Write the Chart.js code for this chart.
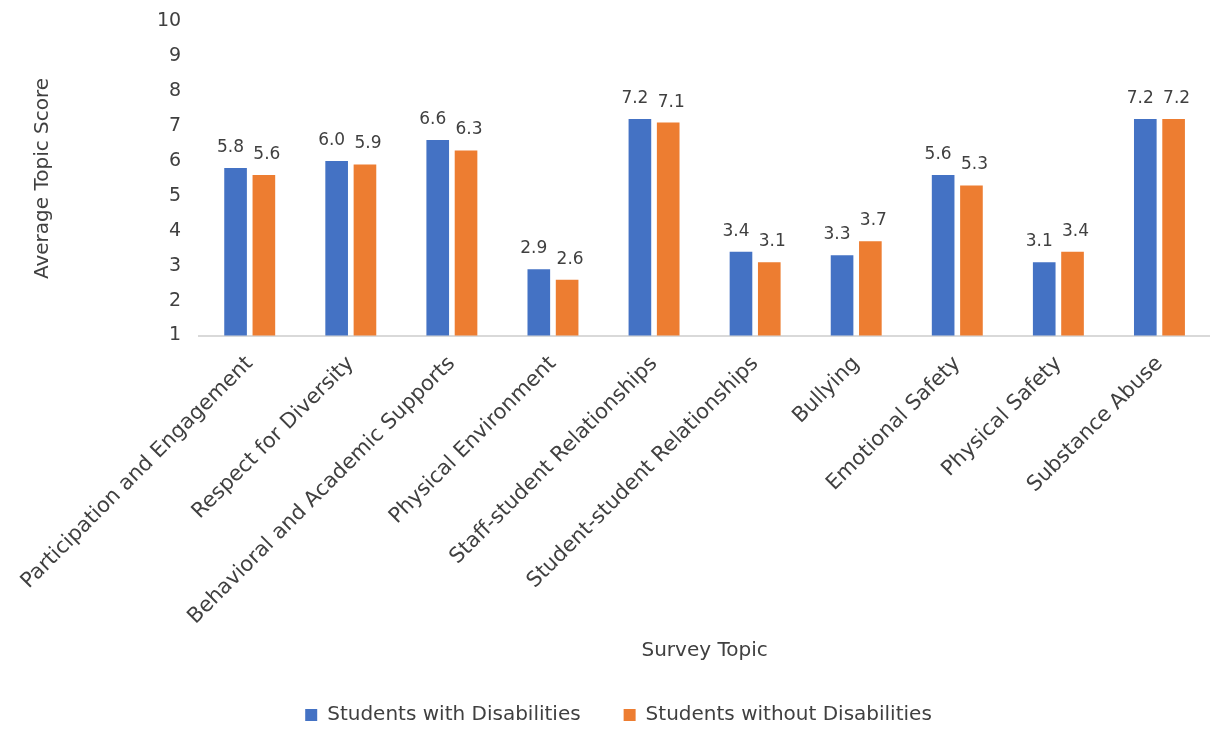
<!DOCTYPE html>
<html>
<head>
<meta charset="utf-8">
<script src="https://cdn.jsdelivr.net/npm/chart.js@4"></script>
<style>
  body { margin: 0; background: #fff; }
  #wrap { width: 1210px; height: 730px; }
</style>
</head>
<body>
<div id="wrap"><canvas id="chart" width="1210" height="730"></canvas></div>
<script>
// chart data
const topics = [
  'Participation and Engagement', 'Respect for Diversity', 'Behavioral and Academic Supports',
  'Physical Environment', 'Staff-student Relationships', 'Student-student Relationships',
  'Bullying', 'Emotional Safety', 'Physical Safety', 'Substance Abuse'
];
const withDisabilities = [5.8, 6.0, 6.6, 2.9, 7.2, 3.4, 3.3, 5.6, 3.1, 7.2];
const withoutDisabilities = [5.6, 5.9, 6.3, 2.6, 7.1, 3.1, 3.7, 5.3, 3.4, 7.2];
const seriesNames = ['Students with Disabilities', 'Students without Disabilities'];

const textColor = '#404040';
const fontFamily = "'DejaVu Sans', sans-serif";

// draws the value above each bar, nudged apart a little like the original
const valueLabels = {
  id: 'valueLabels',
  afterDatasetsDraw(chart) {
    const ctx = chart.ctx;
    const nudge = [-5, 3];
    ctx.save();
    ctx.fillStyle = textColor;
    ctx.font = '17px ' + fontFamily;
    ctx.textAlign = 'center';
    ctx.textBaseline = 'bottom';
    chart.data.datasets.forEach((ds, i) => {
      chart.getDatasetMeta(i).data.forEach((bar, j) => {
        ctx.fillText(ds.data[j].toFixed(1), bar.x + nudge[i], bar.y - 12);
      });
    });
    ctx.restore();
  }
};

new Chart(document.getElementById('chart'), {
  type: 'bar',
  data: {
    labels: topics,
    datasets: [
      { label: seriesNames[0], data: withDisabilities, backgroundColor: '#4472C4' },
      { label: seriesNames[1], data: withoutDisabilities, backgroundColor: '#ED7D31' }
    ]
  },
  options: {
    responsive: false,
    animation: false,
    categoryPercentage: 0.56,
    barPercentage: 0.8,
    layout: { padding: { top: 2, right: 0, left: 27, bottom: -5 } },
    plugins: {
      legend: {
        position: 'bottom',
        labels: {
          color: textColor,
          font: { size: 20, family: fontFamily },
          boxWidth: 12,
          boxHeight: 12,
          padding: 3,
          // widen the gap between the two entries without extra height
          generateLabels(chart) {
            const items = Chart.defaults.plugins.legend.labels.generateLabels(chart);
            items[0].text += '\u2003\u2003';
            return items;
          }
        }
      },
      tooltip: { enabled: false }
    },
    scales: {
      x: {
        grid: { display: false },
        border: { color: '#d9d9d9', width: 2 },
        ticks: {
          color: textColor,
          font: { size: 21, family: fontFamily },
          minRotation: 45,
          maxRotation: 45,
          padding: 8
        },
        title: {
          display: true,
          text: 'Survey Topic',
          color: textColor,
          font: { size: 20, family: fontFamily },
          padding: { top: 31, bottom: 39 }
        }
      },
      y: {
        min: 1,
        max: 10,
        grid: { display: false },
        border: { display: false },
        ticks: {
          stepSize: 1,
          color: textColor,
          font: { size: 19, family: fontFamily },
          padding: 10
        },
        title: {
          display: true,
          text: 'Average Topic Score',
          color: textColor,
          font: { size: 20, family: fontFamily },
          padding: { bottom: 92 }
        }
      }
    }
  },
  plugins: [valueLabels]
});
</script>
</body>
</html>
